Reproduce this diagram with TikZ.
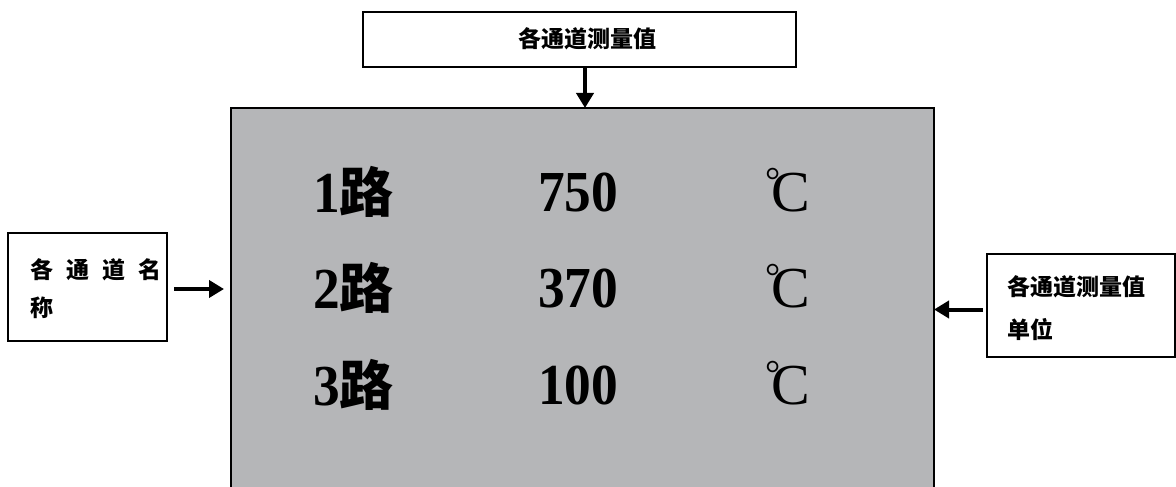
\documentclass[tikz,border=0pt]{standalone}
\usepackage{fontspec}
\setmainfont{Liberation Serif}
\newfontfamily\cjk{Noto Sans CJK SC}
\newfontfamily\narrow{Liberation Serif}[FakeStretch=0.92]
\usetikzlibrary{arrows.meta}
\definecolor{screengray}{RGB}{181,182,184}
\begin{document}
\begin{tikzpicture}[x=1pt,y=-1pt,
  box/.style={draw,line width=1.4pt,fill=white,inner sep=0pt,outer sep=0pt},
  arr/.style={-{Triangle[length=15pt,width=17pt]},line width=4pt},
  big/.style={font=\narrow\fontsize{58}{62}\selectfont\bfseries,anchor=west,inner sep=0pt},
  unit/.style={font=\fontsize{58}{62}\selectfont,anchor=west,inner sep=0pt},
  lbl/.style={font=\cjk\bfseries\fontsize{23}{26}\selectfont,inner sep=0pt}]
\useasboundingbox (0,0) rectangle (1176,487);
% screen
\node[draw,line width=1.5pt,fill=screengray,inner sep=0pt,outer sep=0pt,
      minimum width=703pt,minimum height=390pt,anchor=north west] (screen) at (231,108) {};
% top box
\node[box,minimum width=433pt,minimum height=55pt,anchor=north west] (top) at (363,12) {};
\node[lbl] (toptxt) at (587,39) {各通道测量值};
\coordinate (tstart) at (585,67);
\coordinate (tend) at (tstart |- screen.north);
\draw[arr] (tstart) -- (tend);
% left box
\node[box,minimum width=159pt,minimum height=108pt,anchor=north west] (left) at (8,233) {};
\node[lbl,anchor=west] (l1) at (30,270) {各\kern13pt 通\kern13pt 道\kern13pt 名};
\node[lbl,anchor=west] (l2) at (30,308) {称};
\coordinate (lstart) at ([xshift=7pt,yshift=-2pt]left.east);
\coordinate (lend) at ([xshift=-7pt]screen.west |- lstart);
\draw[arr] (lstart) -- (lend);
% right box
\node[box,minimum width=188pt,minimum height=103pt,anchor=north west] (right) at (987,254) {};
\node[lbl,anchor=west] (r1) at (1007,287) {各通道测量值};
\node[lbl,anchor=west] (r2) at (1007,330) {单位};
\coordinate (rstart) at ([xshift=-4pt,yshift=-4pt]right.west);
\coordinate (rend) at (screen.east |- rstart);
\draw[arr] (rstart) -- (rend);
% rows
\newcommand{\lu}{{\cjk\bfseries\fontsize{54}{60}\selectfont 路}}
\newcommand{\degc}{\raisebox{18pt}{\fontsize{38}{40}\selectfont °}\kern-9pt C}
\node[big] (a1) at (313,192) {1\lu};
\node[big] (b1) at (538,192) {750};
\node[unit] (c1) at (765,190) {\degc};
\node[big] (a2) at (313,288) {2\lu};
\node[big] (b2) at (538,288) {370};
\node[unit] (c2) at (765,286) {\degc};
\node[big] (a3) at (313,385) {3\lu};
\node[big] (b3) at (538,385) {100};
\node[unit] (c3) at (765,383) {\degc};
\end{tikzpicture}
\end{document}
